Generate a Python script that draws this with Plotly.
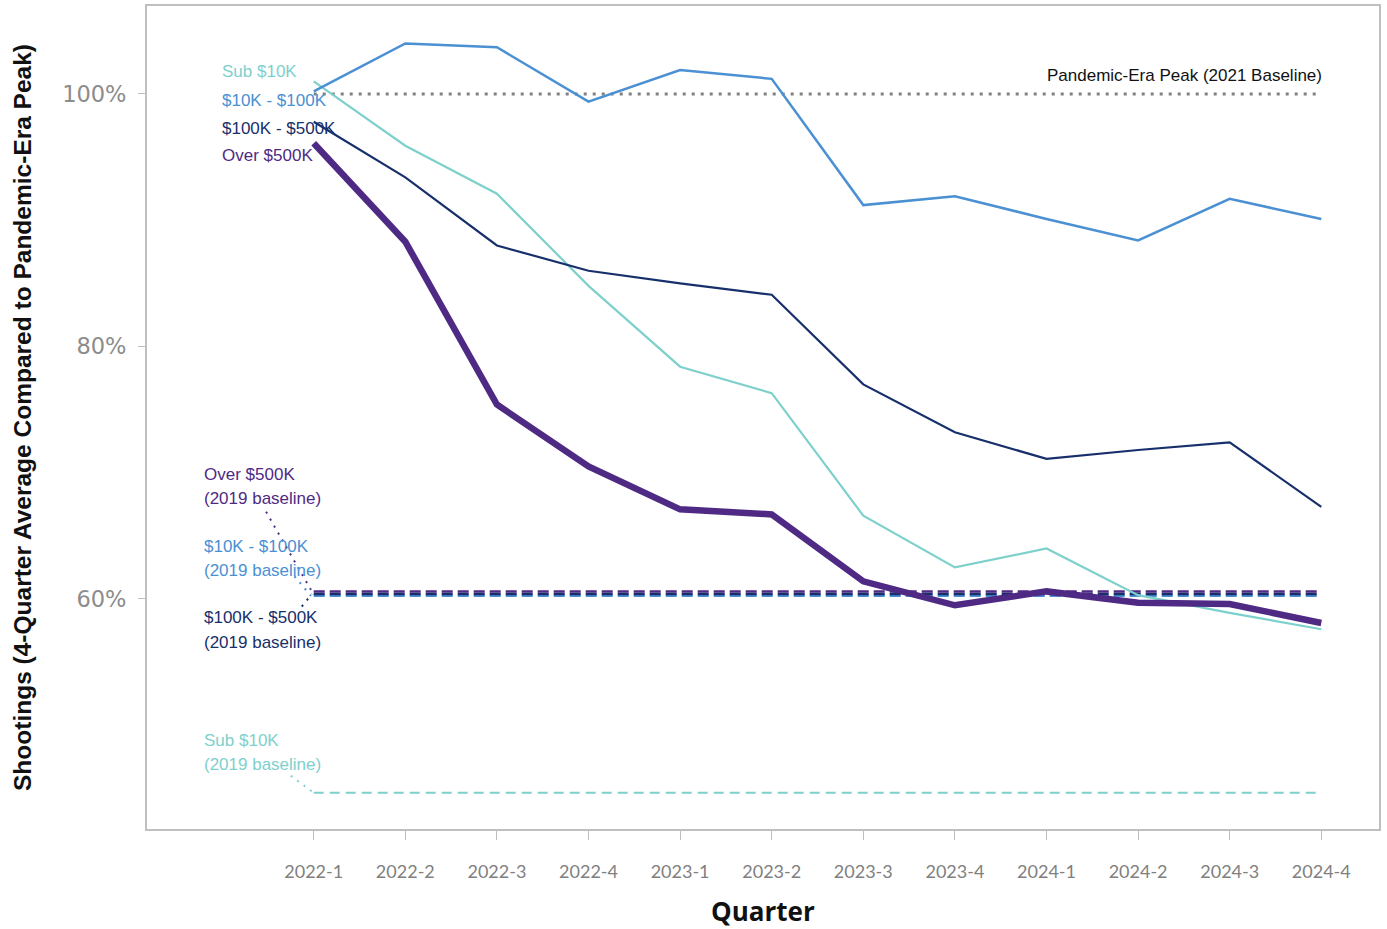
import plotly.graph_objects as go

# Quarters on the x axis
quarters = ["2022-1", "2022-2", "2022-3", "2022-4", "2023-1", "2023-2",
            "2023-3", "2023-4", "2024-1", "2024-2", "2024-3", "2024-4"]

# 4-quarter average shootings as % of the pandemic-era peak
sub_10k = [101.0, 95.9, 92.1, 84.8, 78.4, 76.3, 66.6, 62.5, 64.0, 60.3, 58.9, 57.6]
k10_100k = [100.2, 104.0, 103.7, 99.4, 101.9, 101.2, 91.2, 91.9, 90.1, 88.4, 91.7, 90.1]
k100_500k = [97.8, 93.4, 88.0, 86.0, 85.0, 84.1, 77.0, 73.2, 71.1, 71.8, 72.4, 67.3]
over_500k = [96.1, 88.3, 75.4, 70.5, 67.1, 66.7, 61.4, 59.5, 60.6, 59.7, 59.6, 58.1]

# 2019 baselines relative to the same peak
base_over_500k = 60.6
base_100_500k = 60.4
base_10_100k = 60.25
base_sub_10k = 44.65
pandemic_peak = 100.0

C_SUB = "#7ed0cc"
C_10_100 = "#4a90d2"
C_100_500 = "#172f6b"
C_OVER = "#4f2a84"
C_PEAK = "#808080"

x = list(range(len(quarters)))
x_end = [x[0], x[-1]]

fig = go.Figure()

# Pandemic-era peak reference
fig.add_trace(go.Scatter(x=x_end, y=[pandemic_peak] * 2, mode="lines",
                         line=dict(color=C_PEAK, width=3, dash="3px,6px"),
                         hoverinfo="skip"))

# 2019 baselines
fig.add_trace(go.Scatter(x=x_end, y=[base_sub_10k] * 2, mode="lines",
                         line=dict(color=C_SUB, width=2, dash="10px,6px"),
                         hoverinfo="skip"))
fig.add_trace(go.Scatter(x=x_end, y=[base_10_100k] * 2, mode="lines",
                         line=dict(color=C_10_100, width=2.5, dash="11px,5px"),
                         hoverinfo="skip"))
fig.add_trace(go.Scatter(x=x_end, y=[base_100_500k] * 2, mode="lines",
                         line=dict(color=C_100_500, width=2.5, dash="11px,5px"),
                         hoverinfo="skip"))
fig.add_trace(go.Scatter(x=x_end, y=[base_over_500k] * 2, mode="lines",
                         line=dict(color=C_OVER, width=2.5, dash="11px,5px"),
                         hoverinfo="skip"))

# Income-band series
fig.add_trace(go.Scatter(x=x, y=sub_10k, mode="lines", name="Sub $10K",
                         line=dict(color=C_SUB, width=2.2)))
fig.add_trace(go.Scatter(x=x, y=k10_100k, mode="lines", name="$10K - $100K",
                         line=dict(color=C_10_100, width=2.5)))
fig.add_trace(go.Scatter(x=x, y=k100_500k, mode="lines", name="$100K - $500K",
                         line=dict(color=C_100_500, width=2.2)))
fig.add_trace(go.Scatter(x=x, y=over_500k, mode="lines", name="Over $500K",
                         line=dict(color=C_OVER, width=6.5)))

# Dotted leaders from baseline labels to their lines
leaders = [
    (C_OVER, [-0.52, -0.02], [66.9, base_over_500k]),
    (C_10_100, [-0.21, -0.03], [61.8, base_10_100k]),
    (C_100_500, [-0.13, -0.02], [59.4, base_100_500k]),
    (C_SUB, [-0.25, 0.0], [46.0, base_sub_10k]),
]
for color, lx, ly in leaders:
    fig.add_trace(go.Scatter(x=lx, y=ly, mode="lines",
                             line=dict(color=color, width=2, dash="2px,6px"),
                             hoverinfo="skip"))

LBL = "Liberation Sans, Arial, sans-serif"
annotations = []

# Series labels near the first quarter
for text, color, yy in [("Sub $10K", C_SUB, 101.8),
                        ("$10K - $100K", C_10_100, 99.5),
                        ("$100K - $500K", C_100_500, 97.3),
                        ("Over $500K", C_OVER, 95.15)]:
    annotations.append(dict(x=-1.02, y=yy, xref="x", yref="y", text=text,
                            showarrow=False, xanchor="left", yanchor="middle",
                            font=dict(family=LBL, size=17, color=color)))

# Baseline labels
for text, color, y1, y2 in [("Over $500K", C_OVER, 69.83, 67.93),
                            ("$10K - $100K", C_10_100, 64.13, 62.23),
                            ("$100K - $500K", C_100_500, 58.5, 56.53),
                            ("Sub $10K", C_SUB, 48.77, 46.87)]:
    for t, yy in [(text, y1), ("(2019 baseline)", y2)]:
        annotations.append(dict(x=-1.22, y=yy, xref="x", yref="y", text=t,
                                showarrow=False, xanchor="left", yanchor="middle",
                                font=dict(family=LBL, size=17, color=color)))

annotations.append(dict(x=x[-1], y=101.45, xref="x", yref="y", xshift=3,
                        text="Pandemic-Era Peak (2021 Baseline)",
                        showarrow=False, xanchor="right", yanchor="middle",
                        font=dict(family=LBL, size=17, color="#111111")))

# X-axis title
annotations.append(dict(x=0.5, y=0, xref="paper", yref="paper", yshift=-82,
                        text="<b>Quarter</b>", showarrow=False, borderpad=0,
                        xanchor="center", yanchor="middle",
                        font=dict(family="Open Sans, sans-serif", size=26, color="#111111")))

fig.update_layout(
    width=1387, height=929,
    margin=dict(l=147, r=8, t=6, b=100),
    paper_bgcolor="white", plot_bgcolor="white",
    showlegend=False,
    annotations=annotations,
    xaxis=dict(
        range=[-1.82, 11.63], automargin=False,
        tickmode="array", tickvals=x, ticktext=quarters,
        showgrid=False, zeroline=False,
        showline=True, mirror=True, linecolor="#bfbfbf", linewidth=2,
        ticks="outside", ticklen=9, tickcolor="#bfbfbf", tickwidth=1,
        ticklabelstandoff=16,
        tickfont=dict(family="Lato, Open Sans, sans-serif", size=18, color="#808080"),
    ),
    yaxis=dict(
        range=[41.78, 106.97], automargin=False,
        tickmode="array", tickvals=[60, 80, 100], ticktext=["60%", "80%", "100%"],
        showgrid=False, zeroline=False,
        showline=True, mirror=True, linecolor="#bfbfbf", linewidth=2,
        ticks="outside", ticklen=7, tickcolor="#bfbfbf", tickwidth=1,
        ticklabelstandoff=7,
        tickfont=dict(family="DejaVu Sans, sans-serif", size=22.5, color="#8c8c8c"),
        title=dict(text="<b>Shootings (4-Quarter Average Compared to Pandemic-Era Peak)</b>",
                   standoff=24,
                   font=dict(family="Liberation Sans Narrow, Arial Narrow, sans-serif",
                             size=24.5, color="#111111")),
    ),
)

fig.write_html("out.html")
